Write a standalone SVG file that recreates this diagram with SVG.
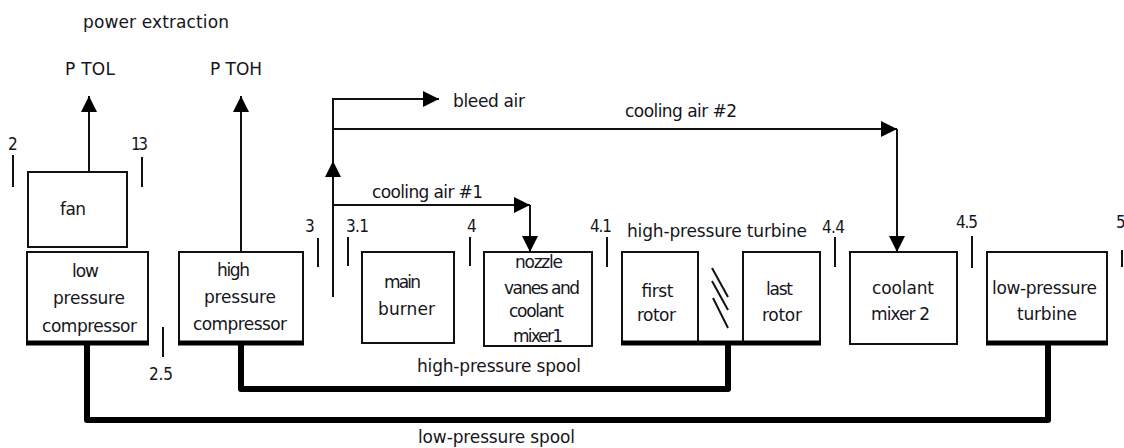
<svg xmlns="http://www.w3.org/2000/svg" width="1124" height="448" viewBox="0 0 1124 448">
<style>
text{font-family:"DejaVu Sans","Liberation Sans",sans-serif;font-size:17px;fill:#151520}
.num{font-family:"DejaVu Sans Condensed","DejaVu Sans","Liberation Sans",sans-serif;font-size:17px}
.box{fill:#fff;stroke:#111;stroke-width:2}
.thick{stroke:#000;stroke-width:5;fill:none}
.ln{stroke:#111;stroke-width:2;fill:none}
.tick{stroke:#111;stroke-width:2}
.spool{stroke:#000;stroke-width:6;fill:none;stroke-linejoin:round}
</style>
<defs>
<marker id="arr" viewBox="0 0 16 16" refX="16" refY="8" markerWidth="16" markerHeight="16" markerUnits="userSpaceOnUse" orient="auto">
<path d="M0,0 L16,8 L0,16 z" fill="#000"/>
</marker>
</defs>
<rect width="1124" height="448" fill="#fff"/>

<g id="labels">
<text x="83" y="28" textLength="146">power extraction</text>
<text x="65" y="75" textLength="50">P TOL</text>
<text x="210" y="75" textLength="52">P TOH</text>
<text x="453" y="107" textLength="72">bleed air</text>
<text x="625" y="117" textLength="112">cooling air #2</text>
<text x="372" y="198" textLength="111">cooling air #1</text>
<text x="417" y="372" textLength="164">high-pressure spool</text>
<text x="418" y="443" textLength="157">low-pressure spool</text>
</g>

<g id="stations">
<text class="num" x="8" y="150">2</text>
<text class="num" x="131" y="150" textLength="17">13</text>
<text class="num" x="149" y="380" textLength="24">2.5</text>
<text class="num" x="305" y="232">3</text>
<text class="num" x="346" y="232" textLength="23">3.1</text>
<text class="num" x="467" y="232">4</text>
<text class="num" x="590" y="232" textLength="22">4.1</text>
<text class="num" x="822" y="233" textLength="23">4.4</text>
<text class="num" x="956" y="228" textLength="22">4.5</text>
<text class="num" x="1116" y="228">5</text>
<line class="tick" x1="13" y1="155" x2="13" y2="187"/>
<line class="tick" x1="142" y1="157" x2="142" y2="187"/>
<line class="tick" x1="163" y1="327" x2="163" y2="357"/>
<line class="tick" x1="318" y1="238" x2="318" y2="267"/>
<line class="tick" x1="348" y1="237" x2="348" y2="266"/>
<line class="tick" x1="470" y1="237" x2="470" y2="266"/>
<line class="tick" x1="607" y1="237" x2="607" y2="267"/>
<line class="tick" x1="835" y1="237" x2="835" y2="267"/>
<line class="tick" x1="972" y1="236" x2="972" y2="268"/>
<line class="tick" x1="1122" y1="250" x2="1122" y2="267"/>
</g>

<g id="fan">
<rect class="box" x="28" y="172" width="99" height="75"/>
<text x="60" y="215" textLength="26">fan</text>
</g>

<g id="lpc">
<rect class="box" x="27" y="252" width="121" height="90"/>
<line class="thick" x1="26" y1="343" x2="149" y2="343"/>
<text x="72" y="277" textLength="27">low</text>
<text x="53" y="304" textLength="72">pressure</text>
<text x="42" y="332" textLength="95">compressor</text>
</g>

<g id="hpc">
<rect class="box" x="179" y="252" width="124" height="90"/>
<line class="thick" x1="178" y1="343" x2="304" y2="343"/>
<text x="217" y="276" textLength="33">high</text>
<text x="204" y="303" textLength="72">pressure</text>
<text x="193" y="330" textLength="94">compressor</text>
</g>

<g id="burner">
<rect class="box" x="362" y="252" width="92" height="91"/>
<text x="384" y="288" textLength="37">main</text>
<text x="378" y="315" textLength="57">burner</text>
</g>

<g id="nozzle">
<rect class="box" x="484" y="252" width="108" height="94"/>
<text x="515" y="268" textLength="48">nozzle</text>
<text x="504" y="294" textLength="76">vanes and</text>
<text x="509" y="317" textLength="55">coolant</text>
<text x="513" y="342" textLength="50">mixer1</text>
</g>

<g id="hpt">
<text x="627" y="237" textLength="180">high-pressure turbine</text>
<rect class="box" x="622" y="252" width="76" height="91"/>
<rect class="box" x="743" y="252" width="77" height="91"/>
<line class="thick" x1="621" y1="343" x2="821" y2="343"/>
<line class="ln" x1="712" y1="268" x2="728" y2="297"/>
<line class="ln" x1="712" y1="281" x2="728" y2="310"/>
<line class="ln" x1="713" y1="298" x2="728" y2="328"/>
<text x="641" y="297" textLength="32">first</text>
<text x="637" y="321" textLength="39">rotor</text>
<text x="766" y="295" textLength="27">last</text>
<text x="762" y="321" textLength="40">rotor</text>
</g>

<g id="mixer2">
<rect class="box" x="850" y="252" width="107" height="92"/>
<text x="872" y="294" textLength="62">coolant</text>
<text x="871" y="320" textLength="59">mixer 2</text>
</g>

<g id="lpt">
<rect class="box" x="987" y="252" width="120" height="90"/>
<line class="thick" x1="986" y1="343" x2="1108" y2="343"/>
<text x="992" y="294" textLength="105">low-pressure</text>
<text x="1017" y="320" textLength="60">turbine</text>
</g>

<g id="connectors">
<path class="ln" d="M89,172 V96" marker-end="url(#arr)"/>
<path class="ln" d="M241,252 V96" marker-end="url(#arr)"/>
<path class="ln" d="M333,297 V161" marker-end="url(#arr)"/>
<path class="ln" d="M333,161 V99 H439" marker-end="url(#arr)"/>
<path class="ln" d="M333,129 H897" marker-end="url(#arr)"/>
<path class="ln" d="M897,129 V252" marker-end="url(#arr)"/>
<path class="ln" d="M333,205 H530" marker-end="url(#arr)"/>
<path class="ln" d="M530,205 V252" marker-end="url(#arr)"/>
<path class="spool" d="M241,343 V389 H728 V343"/>
<path class="spool" d="M87,343 V420 H1048 V343"/>
</g>
</svg>
